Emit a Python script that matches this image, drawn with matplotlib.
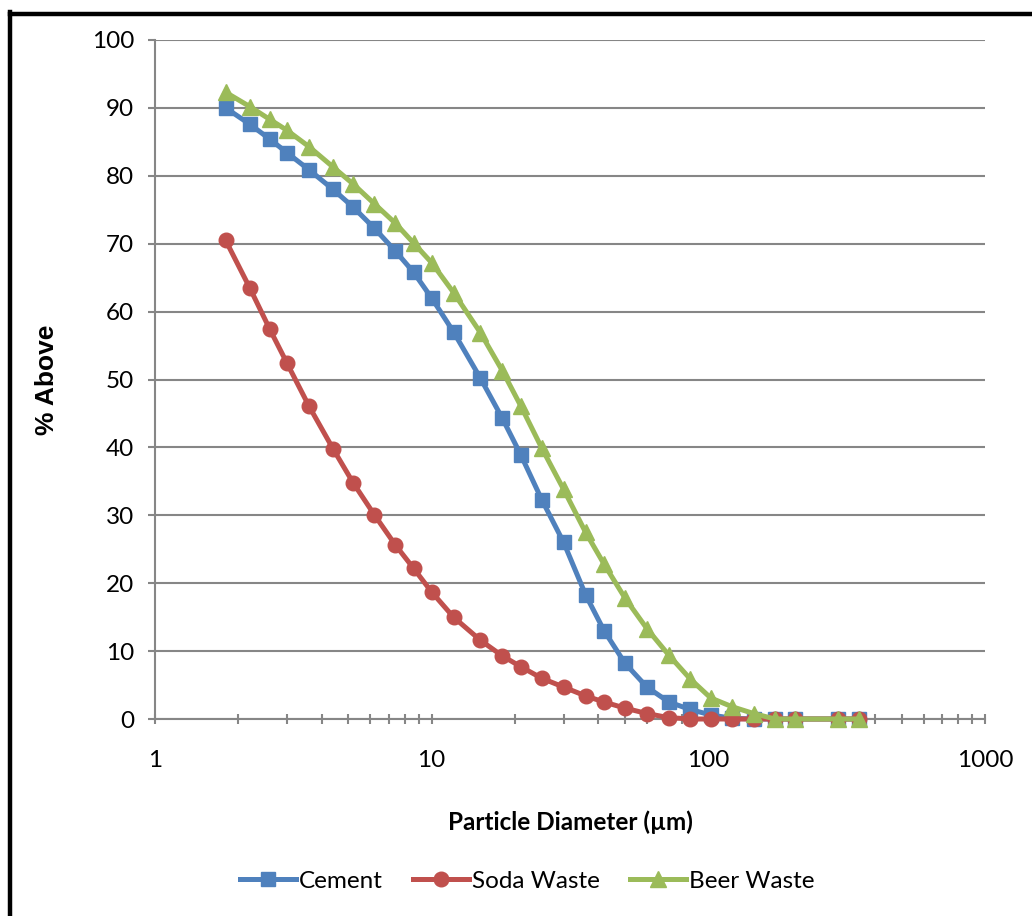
import matplotlib
matplotlib.use("Agg")
import matplotlib.pyplot as plt
from matplotlib.lines import Line2D
from matplotlib.ticker import LogLocator, FixedLocator, NullFormatter, FixedFormatter

# ---- data ----
diameters = [1.8, 2.2, 2.6, 3.0, 3.6, 4.4, 5.2, 6.2, 7.4, 8.6, 10, 12, 15, 18, 21,
             25, 30, 36, 42, 50, 60, 72, 86, 102, 122, 146, 174, 206, 294, 350]
cement = [90.0, 87.6, 85.4, 83.4, 80.9, 78.0, 75.4, 72.3, 68.9, 65.8, 62.0, 57.0,
          50.2, 44.3, 38.9, 32.3, 26.0, 18.3, 13.0, 8.2, 4.7, 2.5, 1.4, 0.6, 0.1,
          0, 0, 0, 0, 0]
soda = [70.5, 63.5, 57.4, 52.4, 46.1, 39.8, 34.8, 30.1, 25.6, 22.2, 18.7, 15.0,
        11.6, 9.3, 7.7, 6.0, 4.7, 3.4, 2.5, 1.6, 0.8, 0.2, 0, 0, 0, 0, 0, 0, 0, 0]
beer = [92.3, 90.2, 88.3, 86.7, 84.3, 81.3, 78.8, 75.9, 73.0, 70.1, 67.2, 62.8,
        56.9, 51.3, 46.1, 39.9, 33.8, 27.5, 22.8, 17.8, 13.3, 9.4, 5.9, 3.1, 1.8,
        0.8, 0, 0, 0, 0]
series_names = ["Cement", "Soda Waste", "Beer Waste"]
x_ticks = [1, 10, 100, 1000]
x_ticklabels = ["1", "10", "100", "1000"]
y_ticks = [0, 10, 20, 30, 40, 50, 60, 70, 80, 90, 100]

colors = ["#4F81BD", "#C0504D", "#9BBB59"]
markers = ["s", "o", "^"]
msizes = [10.5, 10.5, 12]

plt.rcParams['font.family'] = ['Lato', 'DejaVu Sans']

fig = plt.figure(figsize=(10.32, 9.16), dpi=100)
ax = fig.add_axes([155/1032, 1-719/916, 830/1032, 679/916])

grid_c = "#868686"
for vals, name, c, m, ms in zip([cement, soda, beer], series_names, colors, markers, msizes):
    ax.plot(diameters, vals, color=c, lw=3.6, marker=m, markersize=ms,
            markeredgecolor=c, label=name, clip_on=False, zorder=3)

ax.set_xscale("log")
ax.set_xlim(1, 1000)
ax.set_ylim(0, 100)
ax.xaxis.set_major_locator(FixedLocator(x_ticks))
ax.xaxis.set_major_formatter(FixedFormatter(x_ticklabels))
ax.xaxis.set_minor_locator(LogLocator(base=10, subs=range(2, 10)))
ax.xaxis.set_minor_formatter(NullFormatter())
ax.set_yticks(y_ticks)

for s in ["top", "right"]:
    ax.spines[s].set_visible(False)
for s in ["left", "bottom"]:
    ax.spines[s].set_color(grid_c)
    ax.spines[s].set_linewidth(1.5)

ax.yaxis.grid(True, color=grid_c, lw=1.5)
ax.set_axisbelow(True)

ax.tick_params(axis="y", which="major", direction="out", length=5, width=1.5,
               color=grid_c, labelsize=17.5, pad=10)
ax.tick_params(axis="x", which="both", direction="inout", length=7, width=1.5,
               color=grid_c)
ax.tick_params(axis="x", which="major", labelsize=17.5, pad=19)

ax.set_xlabel("Particle Diameter (\u00b5m)", fontsize=17.5, fontweight="bold")
ax.set_ylabel("% Above", fontsize=19, fontweight="bold", family="Liberation Sans")
ax.yaxis.set_label_coords(-(155-59)/830, 0.5)
ax.xaxis.set_label_coords(0.5, -(810-719)/679)

handles = [Line2D([], [], color=c, lw=3.6, marker=m, markersize=ms, markeredgecolor=c)
           for c, m, ms in zip(colors, markers, msizes)]
fig.legend(handles, series_names, loc="center", bbox_to_anchor=(527/1032, 1-881/916),
           ncol=3, frameon=False, fontsize=17.5, handlelength=2.3, handletextpad=0.12,
           columnspacing=1.25, numpoints=1)

# outer black border (left and top)
fig.add_artist(Line2D([10/1032, 10/1032], [0, 1-12/916], color="black", lw=3.2,
                      transform=fig.transFigure, solid_capstyle="projecting"))
fig.add_artist(Line2D([10/1032, 1], [1-13.5/916, 1-13.5/916], color="black", lw=3.2,
                      transform=fig.transFigure, solid_capstyle="projecting"))

fig.savefig("out.png", dpi=100, facecolor="white")
